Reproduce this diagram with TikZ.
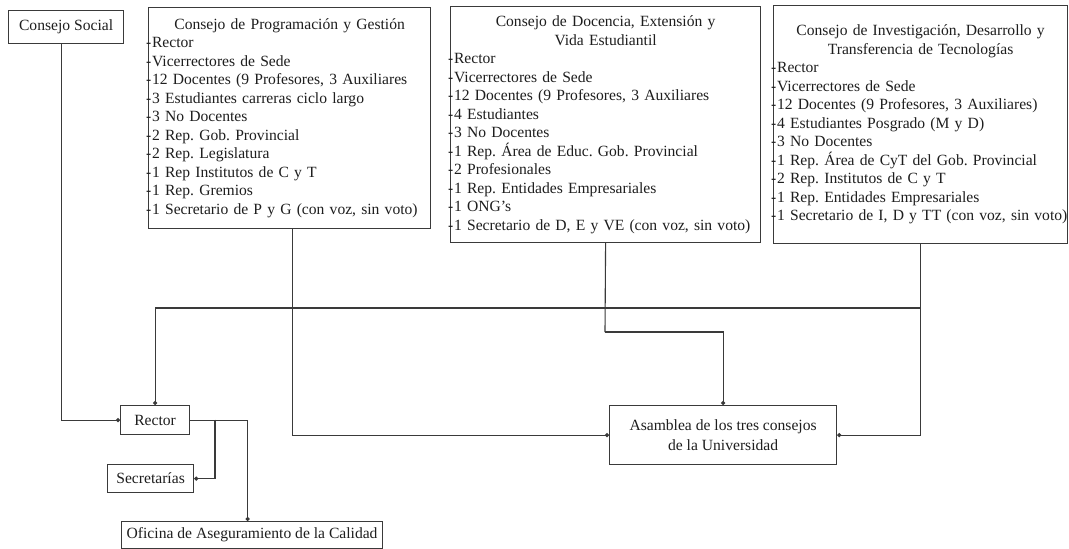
\documentclass[tikz,border=0pt]{standalone}
\usepackage{fontspec}
\setmainfont{Liberation Serif}
\usetikzlibrary{arrows.meta,calc}
\frenchspacing
\newcommand\itm[1]{\mbox{\kern-2.5pt-\kern0.8pt#1}}
\newcommand\ttl[1]{\hfill\mbox{#1}\hfill\null}
\definecolor{ln}{HTML}{3A3A3A}
\definecolor{tx}{HTML}{1E1E1E}
\tikzset{
  box/.style={draw=ln, line width=1.2pt, inner sep=0pt, anchor=north west,
    font=\fontsize{15.6}{18.5}\selectfont\frenchspacing, text=tx},
  listbox/.style={box, align=left},
  smallbox/.style={box, align=center},
  conn/.style={draw=ln, line width=1.1pt, -{Circle[length=4pt]}},
  plain/.style={draw=ln, line width=1.1pt}
}
\begin{document}
\begin{tikzpicture}[x=1pt,y=-1pt]
\useasboundingbox[fill=white] (0,0) rectangle (1069,549);

\node[smallbox, minimum width=115pt, minimum height=33pt] (cs) at (8,10) {Consejo Social};

\node[listbox, text width=282pt, minimum height=221pt] (p1) at (148,7) {%
\ttl{Consejo de Programación y Gestión}\\
\itm{Rector}\\
\itm{Vicerrectores de Sede}\\
\itm{12 Docentes (9 Profesores, 3 Auxiliares}\\
\itm{3 Estudiantes carreras ciclo largo}\\
\itm{3 No Docentes}\\
\itm{2 Rep. Gob. Provincial}\\
\itm{2 Rep. Legislatura}\\
\itm{1 Rep Institutos de C y T}\\
\itm{1 Rep. Gremios}\\
\itm{1 Secretario de P y G (con voz, sin voto)}};

\node[listbox, text width=310pt, minimum height=236pt] (p2) at (450,6) {%
\ttl{Consejo de Docencia, Extensión y}\\
\ttl{Vida Estudiantil}\\
\itm{Rector}\\
\itm{Vicerrectores de Sede}\\
\itm{12 Docentes (9 Profesores, 3 Auxiliares}\\
\itm{4 Estudiantes}\\
\itm{3 No Docentes}\\
\itm{1 Rep. Área de Educ. Gob. Provincial}\\
\itm{2 Profesionales}\\
\itm{1 Rep. Entidades Empresariales}\\
\itm{1 ONG's}\\
\itm{1 Secretario de D, E y VE (con voz, sin voto)}};

\node[listbox, text width=294pt, minimum height=238pt] (p3) at (773,5) {%
\ttl{Consejo de Investigación, Desarrollo y}\\
\ttl{Transferencia de Tecnologías}\\
\itm{Rector}\\
\itm{Vicerrectores de Sede}\\
\itm{12 Docentes (9 Profesores, 3 Auxiliares)}\\
\itm{4 Estudiantes Posgrado (M y D)}\\
\itm{3 No Docentes}\\
\itm{1 Rep. Área de CyT del Gob. Provincial}\\
\itm{2 Rep. Institutos de C y T}\\
\itm{1 Rep. Entidades Empresariales}\\
\itm{1 Secretario de I, D y TT (con voz, sin voto)}};

\node[smallbox, minimum width=69pt, minimum height=29pt] (rector) at (120,405) {Rector};
\node[smallbox, minimum width=86pt, minimum height=28pt] (sec) at (107,464) {Secretarías};
\node[smallbox, minimum width=261pt, minimum height=27pt] (ofi) at (121,521) {Oficina de Aseguramiento de la Calidad};
\node[smallbox, minimum width=227pt, minimum height=59pt, font=\fontsize{15.6}{20}\selectfont] (asam) at (609,405) {Asamblea de los tres consejos\\de la Universidad};

\coordinate (j2) at (605,332);
\coordinate (j3) at (920,308);
\coordinate (j4) at (215,419.5);

\draw[conn] ([xshift=-4.5pt]cs.south) |- (rector.west);
\draw[conn] ([xshift=3pt]p1.south) |- (asam.west);
\draw[plain] (p2.south) -- (j2);
\draw[conn] (j2) -| (asam.north);
\draw[conn] (p3.south) |- (asam.east);
\draw[conn] (j3) -| (rector.north);
\draw[conn] (rector.east) -| ([xshift=-4.5pt]ofi.north);
\draw[conn] (j4) |- (sec.east);
\end{tikzpicture}
\end{document}
